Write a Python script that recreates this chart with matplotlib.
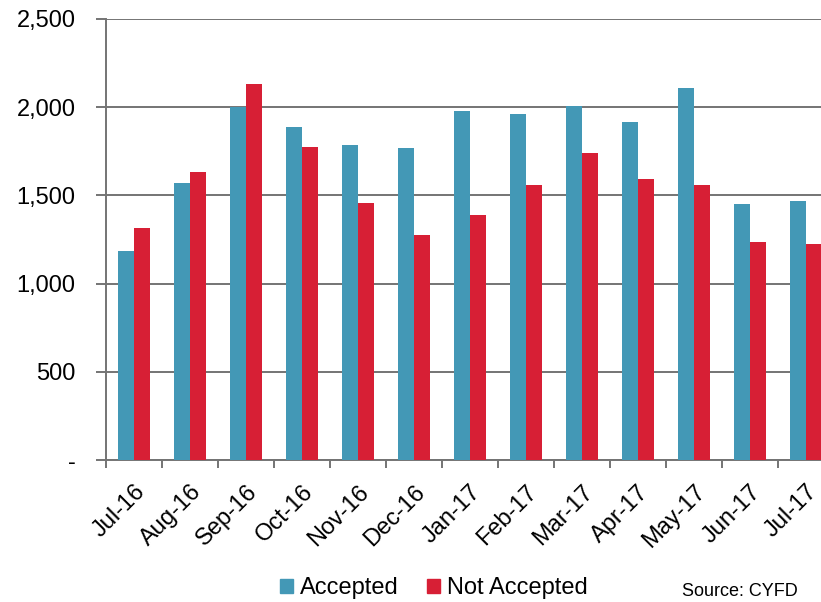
import numpy as np
import matplotlib.pyplot as plt
from matplotlib.patches import Patch
from matplotlib.ticker import FuncFormatter

plt.rcParams['font.family'] = ['Liberation Sans', 'DejaVu Sans']

months = ['Jul-16', 'Aug-16', 'Sep-16', 'Oct-16', 'Nov-16', 'Dec-16',
          'Jan-17', 'Feb-17', 'Mar-17', 'Apr-17', 'May-17', 'Jun-17', 'Jul-17']
accepted = [1184, 1571, 2000, 1888, 1787, 1768, 1977, 1960, 2006, 1915, 2108, 1452, 1466]
not_accepted = [1317, 1634, 2129, 1777, 1455, 1273, 1388, 1560, 1738, 1592, 1557, 1234, 1227]
yticks = [0, 500, 1000, 1500, 2000, 2500]

teal = '#4398b6'
red = '#d71f35'
gray = '#747474'

fig = plt.figure(figsize=(8.21, 6.02), dpi=100)
# axes runs a little past the right edge, like the cropped scan
ax = fig.add_axes([106/821, 1 - 460/602, (834 - 106)/821, (460 - 19)/602])

x = np.arange(len(months))
w = 0.286
ax.bar(x - w/2, accepted, w, color=teal, zorder=3)
ax.bar(x + w/2, not_accepted, w, color=red, zorder=3)

ax.set_xlim(-0.5, len(months) - 0.5)
ax.set_ylim(0, 2500)
ax.set_yticks(yticks)
ax.yaxis.set_major_formatter(FuncFormatter(lambda v, p: '-' if v == 0 else f'{int(v):,}'))
ax.grid(axis='y', color=gray, linewidth=1.4, zorder=0)

ax.set_xticks(x)
ax.set_xticklabels(months, rotation=45, ha='right', rotation_mode='anchor', fontsize=17)
ax.set_xticks(np.arange(len(months)) - 0.5, minor=True)
ax.tick_params(axis='x', which='major', length=0, pad=15)
ax.tick_params(axis='x', which='minor', length=6, width=1.4, color=gray, direction='out')
ax.tick_params(axis='y', length=7, width=1.4, color=gray, labelsize=17, pad=15)

for s in ['top', 'right']:
    ax.spines[s].set_visible(False)
for s in ['left', 'bottom']:
    ax.spines[s].set_color(gray)
    ax.spines[s].set_linewidth(1.4)

handles = [Patch(color=teal, label='Accepted'), Patch(color=red, label='Not Accepted')]
fig.legend(handles=handles, loc='center', bbox_to_anchor=(434/821, 1 - 588/602),
           ncol=2, frameon=False, fontsize=17, handlelength=0.55, handleheight=0.55,
           handletextpad=0.3, columnspacing=1.2)
fig.text(740/821, 1 - 592/602, 'Source: CYFD', ha='center', va='center', fontsize=13)

fig.savefig('out.png', dpi=100)
